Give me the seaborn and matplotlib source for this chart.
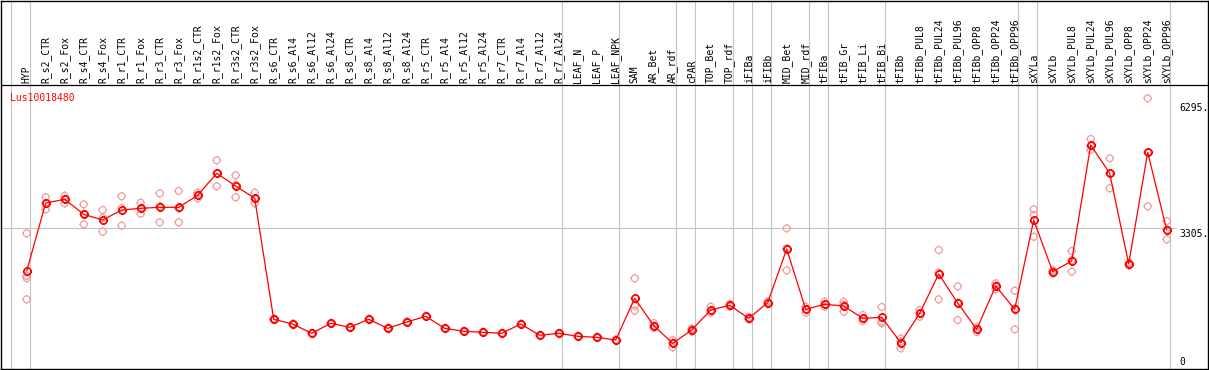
import numpy as np
import pandas as pd
import matplotlib
matplotlib.use("Agg")
import matplotlib.pyplot as plt
from matplotlib.path import Path
import seaborn as sns

# ====== data ======
gene = "Lus10018480"

groups = [
    ["HYP"],
    ["R_s2_CTR", "R_s2_Fox", "R_s4_CTR", "R_s4_Fox", "R_r1_CTR", "R_r1_Fox",
     "R_r3_CTR", "R_r3_Fox", "R_r1s2_CTR", "R_r1s2_Fox", "R_r3s2_CTR", "R_r3s2_Fox",
     "R_s6_CTR", "R_s6_Al4", "R_s6_Al12", "R_s6_Al24", "R_s8_CTR", "R_s8_Al4",
     "R_s8_Al12", "R_s8_Al24", "R_r5_CTR", "R_r5_Al4", "R_r5_Al12", "R_r5_Al24",
     "R_r7_CTR", "R_r7_Al4", "R_r7_Al12", "R_r7_Al24"],
    ["LEAF_N", "LEAF_P", "LEAF_NPK"],
    ["SAM", "AR_Bet", "AR_rdf"],
    ["cPAR"],
    ["TOP_Bet", "TOP_rdf"],
    ["iFIBa"],
    ["iFIBb"],
    ["MID_Bet", "MID_rdf"],
    ["tFIBa"],
    ["tFIB_Gr", "tFIB_Li", "tFIB_Bi"],
    ["tFIBb", "tFIBb_PUL8", "tFIBb_PUL24", "tFIBb_PUL96", "tFIBb_OPP8",
     "tFIBb_OPP24", "tFIBb_OPP96"],
    ["sXYLa"],
    ["sXYLb", "sXYLb_PUL8", "sXYLb_PUL24", "sXYLb_PUL96", "sXYLb_OPP8",
     "sXYLb_OPP24", "sXYLb_OPP96"],
]
samples = [s for g in groups for s in g]

mean_expr = [
    2323, 3887, 3972, 3627, 3496, 3726, 3765, 3788, 3788, 4064, 4570, 4278, 3995,
    1212, 1104, 890, 1120, 1028, 1212, 1005, 1150, 1281, 1005, 936, 913, 890,
    1104, 844, 890, 821, 798, 736,
    1695, 1065, 660, 966, 1426, 1534, 1235, 1594, 2829, 1442, 1557, 1518, 1235,
    1258, 674, 1350, 2254, 1587, 982, 1978, 1442,
    3496, 2307, 2553, 5221, 4570, 2484, 5053, 3266,
]

replicates = [
    [3190, 2208, 2155, 1672],
    [4018, 3887, 3742], [4055, 3979, 3880], [3857, 3634, 3397], [3726, 3542, 3227],
    [4041, 3772, 3365], [3894, 3761, 3641], [4110, 3818, 3443], [4163, 3758, 3443],
    [4124, 4071, 3995], [4869, 4570, 4271], [4524, 4301, 4018], [4124, 3979, 3880],
    [1225, 1212, 1200], [1115, 1104, 1093], [900, 890, 880], [1130, 1120, 1110],
    [1040, 1028, 1016], [1222, 1212, 1202], [1015, 1005, 995], [1160, 1150, 1140],
    [1291, 1281, 1271], [1015, 1005, 995], [946, 936, 926], [923, 913, 903],
    [900, 890, 880], [1114, 1104, 1094], [854, 844, 834], [900, 890, 880],
    [831, 821, 811], [808, 798, 788], [746, 736, 726],
    [2155, 1518, 1410], [1127, 1065, 1012], [736, 674, 568], [1000, 966, 932],
    [1502, 1414, 1364], [1564, 1534, 1506], [1265, 1235, 1208], [1622, 1594, 1564],
    [3305, 2843, 2339], [1502, 1442, 1364], [1617, 1557, 1502], [1617, 1548, 1387],
    [1311, 1226, 1173], [1495, 1157, 1120], [775, 702, 545], [1426, 1350, 1272],
    [2806, 2284, 1672], [1971, 1594, 1196], [1035, 982, 920], [2040, 1990, 1902],
    [1870, 1472, 982],
    [3742, 3611, 3112], [2346, 2307, 2266], [2783, 2576, 2307], [5359, 5198, 5106],
    [4915, 4570, 4225], [2519, 2484, 2450], [6295, 5053, 3811], [3473, 3273, 3052],
]

axis_labels = ["6295.", "3305.", "0"]
ref_level = 3305

# ====== style ======
sns.set_theme(style="white")
plt.rcParams["font.family"] = ["DejaVu Sans Mono", "DejaVu Sans"]

RED = "#ff0000"
PINK = "#f0a0a0"
GRID = "#c4c4c4"

# open circle with four short ticks
ang = np.linspace(0, 2 * np.pi, 41)
ring = np.column_stack([np.cos(ang), np.sin(ang)])
verts = list(ring) + [[1, 0], [1.3, 0], [-1, 0], [-1.3, 0],
                      [0, 1], [0, 1.3], [0, -1], [0, -1.3]]
codes = [Path.MOVETO] + [Path.LINETO] * (len(ring) - 1) + [Path.MOVETO, Path.LINETO] * 4
tick_circle = Path(verts, codes)

df_mean = pd.DataFrame({"pos": np.arange(len(samples)), "expr": mean_expr})
df_rep = pd.DataFrame([(i, v) for i, reps in enumerate(replicates) for v in reps],
                      columns=["pos", "expr"])

W, H = 1209, 370
fig = plt.figure(figsize=(W / 100, H / 100), dpi=100)
ax = fig.add_axes([1 / W, 1.5 / H, 1207 / W, 368 / H])

# pixel mapping: column i at 26.7 + 19 i px; value v at 372 - v/23 px from top
ax.set_xlim((1 - 26.7) / 19, (1208 - 26.7) / 19)
ax.set_ylim((372 - 368.5) * 23, (372 - 0.5) * 23)

# group separators
seps = [-1] + list(np.cumsum([len(g) for g in groups]) - 1)
for s in seps:
    ax.axvline(s + 0.19, color=GRID, lw=0.8, zorder=1)
ax.hlines(ref_level, ax.get_xlim()[0], 60.5, color=GRID, lw=0.8, zorder=1)

# header separator
header_y = (372 - 85) * 23
ax.axhline(header_y, color="black", lw=0.9, zorder=2)

sns.scatterplot(data=df_rep, x="pos", y="expr", ax=ax, marker=tick_circle, s=40,
                facecolors="none", edgecolors=PINK, linewidth=0.9, zorder=3, legend=False)
sns.lineplot(data=df_mean, x="pos", y="expr", ax=ax, color=RED, lw=0.9, zorder=4,
             marker=tick_circle, markersize=6.6, mfc="none", mec=RED, mew=1.2,
             legend=False)

# sample labels in the header
label_y = (372 - 83.3) * 23
for i, name in enumerate(samples):
    ax.text(i, label_y, name, rotation=90, ha="center", va="bottom", fontsize=7,
            color="black")

ax.text((10 - 26.7) / 19, (372 - 100.7) * 23, gene, color=RED, fontsize=7,
        ha="left", va="baseline")

# right-hand scale labels
lab_x = (1179 - 26.7) / 19
for txt, px in zip(axis_labels, [110.7, 236.7, 365]):
    ax.text(lab_x, (372 - px) * 23, txt, fontsize=7, ha="left", va="baseline",
            color="black")

ax.set_xticks([])
ax.set_yticks([])
ax.set_xlabel("")
ax.set_ylabel("")
for sp in ax.spines.values():
    sp.set_color("black")
    sp.set_linewidth(1.0)

fig.savefig("out.png", dpi=100)
